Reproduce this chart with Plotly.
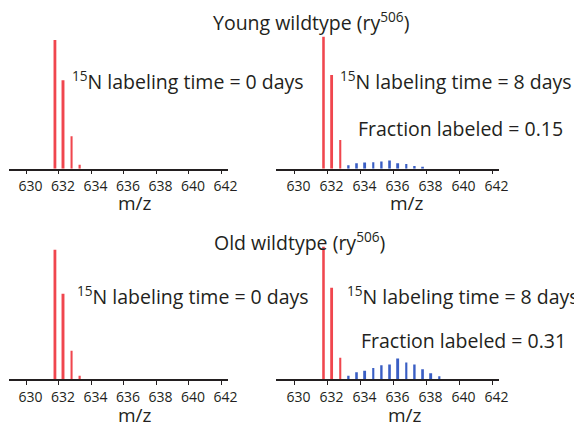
import plotly.graph_objects as go
from plotly.subplots import make_subplots

# ---- data (relative intensity) ----
mz_unlabeled = [631.78, 632.28, 632.78, 633.28]
mz_unlabeled_8d = [631.78, 632.28, 632.78]
mz_labeled_young = [633.28, 633.78, 634.28, 634.78, 635.28, 635.78, 636.28, 636.78, 637.28, 637.78]
mz_labeled_old = [633.28, 633.78, 634.28, 634.78, 635.28, 635.78, 636.28, 636.78, 637.28, 637.78, 638.28, 638.78]

young_day0 = [99, 68, 25, 3]
young_day8_unlab = [101.5, 72, 22]
young_day8_lab = [2.7, 4.1, 4.8, 5.0, 5.6, 6.4, 4.1, 3.6, 2.1, 1.0]

old_day0 = [99.5, 65.6, 21.8, 2.5]
old_day8_unlab = [101.7, 70.2, 16.3]
old_day8_lab = [2.5, 5.2, 6.4, 8.5, 10.5, 11.2, 15.8, 12.7, 11.2, 7.5, 4.4, 2.1]

tick_vals = [630, 632, 634, 636, 638, 640, 642]
titles = ["Young wildtype (ry<sup>506</sup>)", "Old wildtype (ry<sup>506</sup>)"]
time_labels = ["<sup>15</sup>N labeling time = 0 days", "<sup>15</sup>N labeling time = 8 days"]
fractions = ["Fraction labeled = 0.15", "Fraction labeled = 0.31"]

RED = "#f0464e"
BLUE = "#3a5ec4"
TXT = "#231f20"
FONT = "Open Sans"
W, H = 574, 428
KX = 0.98  # horizontal compensation observed in rendering

def px(x):
    return x / (W * KX)

def py(y):
    return 1 - y / H

fig = make_subplots(rows=2, cols=2)

panels = [
    (1, 1, mz_unlabeled, young_day0, None, None),
    (1, 2, mz_unlabeled_8d, young_day8_unlab, mz_labeled_young, young_day8_lab),
    (2, 1, mz_unlabeled, old_day0, None, None),
    (2, 2, mz_unlabeled_8d, old_day8_unlab, mz_labeled_old, old_day8_lab),
]
for r, c, mx, my, bx, by in panels:
    fig.add_trace(go.Bar(x=mx, y=my, width=0.12, marker=dict(color=RED, line=dict(width=0)),
                         showlegend=False), row=r, col=c)
    if bx is not None:
        fig.add_trace(go.Bar(x=bx, y=by, width=0.12, marker=dict(color=BLUE, line=dict(width=0)),
                             showlegend=False), row=r, col=c)

xdom = {1: [px(8.5), px(227)], 2: [px(275), px(497)]}
ydom = {1: [py(168.7), py(25.7)], 2: [py(379), py(236)]}

for r in (1, 2):
    for c in (1, 2):
        fig.update_xaxes(domain=xdom[c], range=[628.9, 642.4], tickvals=tick_vals,
                         ticks="outside", ticklen=4, tickwidth=1.3, tickcolor=TXT,
                         showline=True, linecolor=TXT, linewidth=1.5,
                         showgrid=False, zeroline=False, ticklabelshift=4,
                         tickfont=dict(family=FONT, size=14, color=TXT),
                         fixedrange=True, row=r, col=c)
        fig.update_yaxes(domain=ydom[r], range=[0, 110], visible=False,
                         showgrid=False, zeroline=False, fixedrange=True, row=r, col=c)

ann = []
def add(text, x, y, size=19.5, xanchor="left"):
    ann.append(dict(text=text, x=px(x), y=py(y), xref="paper", yref="paper",
                    xanchor=xanchor, yanchor="middle", showarrow=False,
                    font=dict(family=FONT, size=size, color=TXT)))

add(titles[0], 310, 22, xanchor="center")
add(titles[1], 298, 241, xanchor="center")
add(time_labels[0], 70, 81)
add(time_labels[1], 337, 81)
add(fractions[0], 354, 128)
add(time_labels[0], 75, 295)
add(time_labels[1], 343, 295)
add(fractions[1], 357, 340)
for x, y in [(134, 203), (405, 203), (134, 415), (403, 415)]:
    add("m/z", x, y, size=19, xanchor="center")

fig.update_layout(width=W, height=H, autosize=False, margin=dict(l=0, r=0, t=0, b=0),
                  paper_bgcolor="white", plot_bgcolor="white",
                  barmode="overlay", annotations=ann,
                  font=dict(family=FONT, color=TXT))

fig.write_html("out.html", config={"displayModeBar": False, "responsive": False},
               post_script="document.body.style.margin='0';document.body.style.overflow='hidden';")
